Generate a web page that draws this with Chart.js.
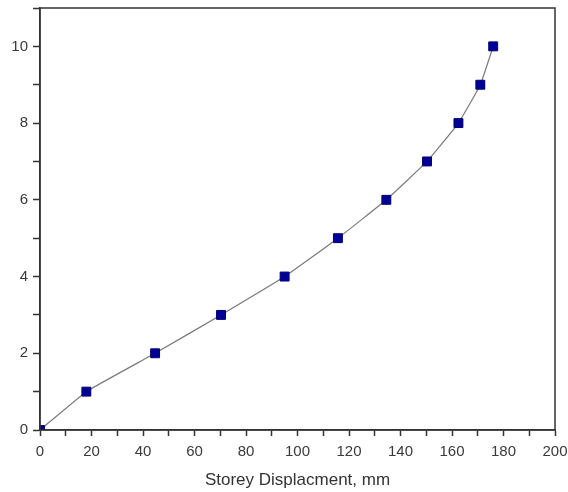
<!DOCTYPE html>
<html>
<head>
<meta charset="utf-8">
<script src="https://cdn.jsdelivr.net/npm/chart.js@4"></script>
<style>
  html, body { margin: 0; padding: 0; background: #fff; }
  #wrap { width: 568px; height: 492px; }
</style>
</head>
<body>
<div id="wrap"><canvas id="storeyChart" width="568" height="492"></canvas></div>
<script>
// Storey displacement (mm) against storey number
const displacement = [0, 18, 44.7, 70.3, 95, 115.7, 134.5, 150.3, 162.5, 171, 176];
const storeys = [0, 1, 2, 3, 4, 5, 6, 7, 8, 9, 10];
const xTickLabels = [0, 20, 40, 60, 80, 100, 120, 140, 160, 180, 200];
const yTickLabels = [0, 2, 4, 6, 8, 10];
const xTitle = 'Storey Displacment, mm';

const points = displacement.map((d, i) => ({ x: d, y: storeys[i] }));

// Draws the box round the plot area (top and right sides)
const frame = {
    id: 'frame',
    afterDraw(chart) {
        const a = chart.chartArea;
        const ctx = chart.ctx;
        ctx.save();
        ctx.strokeStyle = '#333';
        ctx.lineWidth = 1.5;
        ctx.strokeRect(a.left, a.top, a.right - a.left, a.bottom - a.top);
        ctx.restore();
    }
};

const tickFont = { family: 'Liberation Sans, Arial, sans-serif', size: 15 };

new Chart(document.getElementById('storeyChart'), {
    type: 'line',
    data: {
        datasets: [{
            data: points,
            borderColor: '#7a7a7a',
            borderWidth: 1.2,
            tension: 0.1,
            pointStyle: 'rect',
            pointRadius: 6.3,
            pointBackgroundColor: '#000099',
            pointBorderColor: '#00006a',
            pointBorderWidth: 1
        }]
    },
    options: {
        responsive: false,
        animation: false,
        layout: { padding: { top: 8, right: 13, left: 0, bottom: 0 } },
        plugins: {
            legend: { display: false },
            tooltip: { enabled: false }
        },
        scales: {
            x: {
                type: 'linear',
                min: 0,
                max: 200,
                afterFit: s => { s.height = 62; s.paddingRight = 0; },
                border: { color: '#333', width: 1.5 },
                grid: {
                    drawOnChartArea: false,
                    drawTicks: true,
                    tickLength: 6,
                    color: '#333',
                    tickWidth: 1.5
                },
                ticks: {
                    stepSize: 10,
                    autoSkip: false,
                    maxRotation: 0,
                    padding: 7,
                    color: '#3a3a3a',
                    font: tickFont,
                    callback: v => xTickLabels.includes(v) ? String(v) : ''
                },
                title: {
                    display: true,
                    text: xTitle,
                    color: '#333',
                    font: { family: 'Liberation Sans, Arial, sans-serif', size: 17 },
                    padding: { top: 8, bottom: 1 }
                }
            },
            y: {
                type: 'linear',
                min: 0,
                max: 11,
                afterFit: s => { s.width = 40; s.paddingTop = 0; },
                border: { color: '#333', width: 1.5 },
                grid: {
                    drawOnChartArea: false,
                    drawTicks: true,
                    tickLength: 7,
                    color: '#333',
                    tickWidth: 1.5
                },
                ticks: {
                    stepSize: 1,
                    autoSkip: false,
                    padding: 5,
                    color: '#3a3a3a',
                    font: tickFont,
                    callback: v => yTickLabels.includes(v) ? String(v) : ''
                }
            }
        }
    },
    plugins: [frame]
});
</script>
</body>
</html>
